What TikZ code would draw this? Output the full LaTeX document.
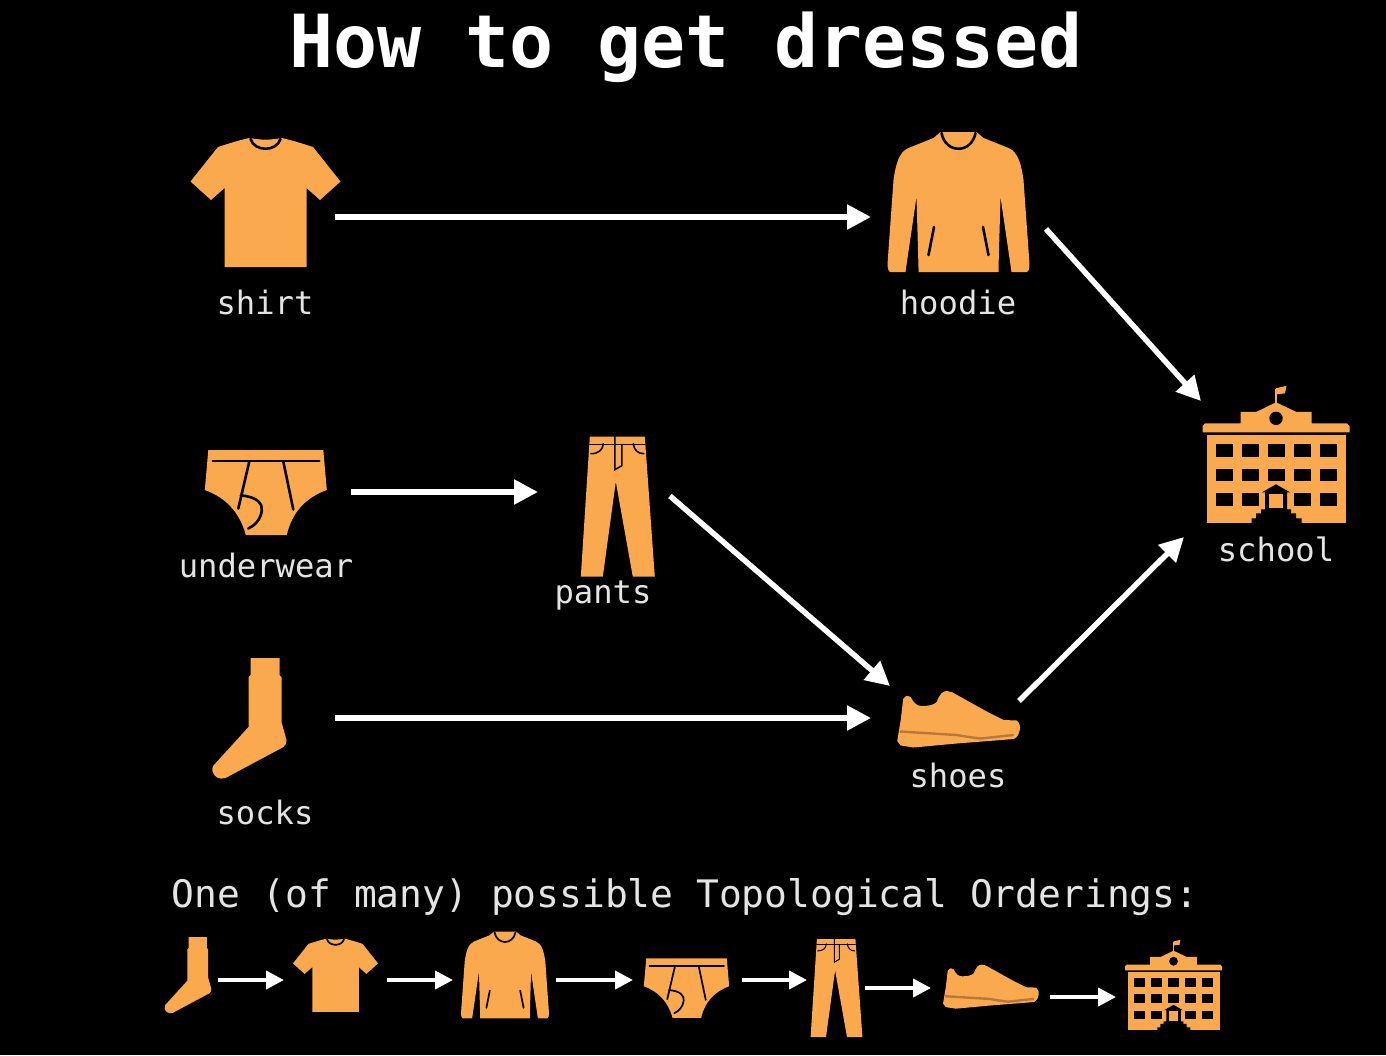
\documentclass[tikz,border=0pt]{standalone}
\usepackage{fontspec}
\setmonofont{DejaVu Sans Mono}
\usetikzlibrary{arrows.meta}
\definecolor{clothes}{HTML}{FBA94F}
\definecolor{labeltext}{HTML}{E4E4E4}
\tikzset{
  iconbox/.style={inner sep=0pt,outer sep=0pt},
  iconfill/.style={fill=clothes},
  iconstroke/.style={draw=black,line width=2.6pt,line cap=round},
  iconsmall/.style={scale=#1,iconstroke/.append style={line width=1.7pt}},
  itemlabel/.style={anchor=base,text=labeltext,font=\ttfamily\fontsize{32.2}{36}\selectfont},
  bigarrow/.style={white,line width=5.5pt,-{Triangle[length=24pt,width=24pt]}},
  smallarrow/.style={white,line width=4pt,-{Triangle[length=18pt,width=18pt]}},
  % Icons, drawn around their centre in pixels of the large row
  shirticon/.pic={
    \fill[iconfill] (-16,-64) to[bend right=10] (16,-64) .. controls (26,-62) and (38,-58) .. (47.5,-55) -- (75,-20.5) -- (54.5,-2) -- (41,-14)
      -- (41,65) -- (-41,65) -- (-41,-14) -- (-54.5,-2) -- (-75,-20.5) -- (-47.5,-55) .. controls (-38,-58) and (-26,-62) .. (-16,-64) -- cycle;
    \draw[iconstroke] (-15,-63) .. controls (-11,-50) and (11,-50) .. (15,-63);
  },
  hoodieicon/.pic={
    \fill[iconfill] (-18,-70) -- (18,-70) -- (25,-64) -- (50,-54) .. controls (60,-50) and (63,-36) .. (65,-22)
      -- (71,62) .. controls (71,66) and (70,70) .. (68,70) -- (53,70) -- (52,63) -- (42,-5) -- (40,66) -- (40,70)
      -- (-40,70) -- (-40,66) -- (-42,-5) -- (-52,63) -- (-53,70) -- (-68,70) .. controls (-70,70) and (-71,66) .. (-71,62)
      -- (-65,-22) .. controls (-63,-36) and (-60,-50) .. (-50,-54) -- (-25,-64) -- cycle;
    \draw[iconstroke] (-17,-69) .. controls (-13,-48) and (13,-48) .. (17,-69);
    \draw[iconstroke] (24.5,25) -- (30,53);
    \draw[iconstroke] (-24.5,25) -- (-30,53);
  },
  undericon/.pic={
    \fill[iconfill] (-57.5,-42.5) -- (57.5,-42.5) -- (61,-2.5) .. controls (40,5) and (26,20) .. (21,42.5) -- (-20,42.5)
      .. controls (-26,20) and (-40,5) .. (-61,-2.5) -- cycle;
    \draw[iconstroke] (-53,-31.5) -- (53.5,-31.5);
    \draw[iconstroke] (-16.5,-31) -- (-27.5,16);
    \draw[iconstroke] (17.5,-31) -- (27.5,17);
    \draw[iconstroke] (-25,3) .. controls (-8,4) and (-3,12) .. (-4,18) .. controls (-5,27) and (-11,33) .. (-17.5,36);
  },
  pantsicon/.pic={
    \fill[iconfill] (-28,-70) -- (27,-70) -- (37,70) -- (15,70) -- (-2,-25) -- (-15,70) -- (-37,70) -- cycle;
    \begin{scope}[iconstroke,line width=0.6*\pgflinewidth]
      \draw (-28,-62) -- (27,-62);
      \draw (-3,-70) -- (-3,-37) -- (4,-41) -- (4,-62);
      \draw (-27,-53) .. controls (-19,-53) and (-15,-57) .. (-14.5,-63);
      \draw (26,-53) .. controls (20,-53) and (16,-57) .. (15.5,-63);
    \end{scope}
  },
  shoesicon/.pic={
    \fill[iconfill] (-61.5,20) -- (-58,-1) -- (-55.5,-22) .. controls (-53,-26) and (-50,-26) .. (-48,-24)
      .. controls (-45,-18) and (-42,-15) .. (-37,-15) .. controls (-30,-15) and (-25,-16) .. (-22,-19)
      .. controls (-19,-27) and (-16,-30) .. (-12,-30) -- (-7,-29) -- (28,-9.5) -- (45,-1) -- (58,-0.5) .. controls (61,2) and (62,6) .. (61,9)
      .. controls (60,14) and (58,17) .. (55,18) -- (-2,22.5) -- (-45,26.5) -- (-58,24.5) -- cycle;
    \draw[clothes!72!black,line width=2.4pt] (-59,10.5) -- (-2,14) .. controls (10,16) and (16,17) .. (22,17.5) -- (55,14);
    \foreach \x in {-52,-44,...,52}
      \fill[black] (\x,{24.5-0.08*\x}) circle (1.6);
  },
  socksicon/.pic={
    \fill[iconfill] (1,-60) -- (30,-60) -- (30,-43) -- (32,-41) -- (32,4) -- (37,22) .. controls (37.5,25) and (36,27) .. (34,29)
      -- (-24,60) .. controls (-30,62) and (-36,59) .. (-37,53) .. controls (-37.5,51) and (-37,49) .. (-36,47.5)
      -- (-1,9) -- (-1,-41) -- (1,-43) -- cycle;
  },
  schoolicon/.pic={
    \draw[clothes,line width=1.5pt] (0,-50) -- (0,-65);
    \fill[iconfill] (0,-66) -- (10.5,-68.5) -- (9,-61) -- (1,-60) -- cycle;
    \fill[iconfill] (-35.5,-31) -- (-35.5,-42.5) -- (-19.5,-42.5) -- (0,-52) -- (20,-42.5) -- (35.5,-42.5) -- (35.5,-31)
      -- (71,-31) -- (73.5,-28) -- (73.5,-22) -- (-73.5,-22) -- (-73.5,-28) -- (-71,-31) -- cycle;
    \fill[black] (0,-36) circle (6.7);
    \fill[iconfill] (-69.5,-19) rectangle (70,68.5);
    \foreach \wx in {-52,-26,0,26,52}
      \foreach \wy in {-4,20.5}
        \fill[black] (\wx-8.5,\wy-6.3) rectangle (\wx+8.5,\wy+6.3);
    \foreach \wx in {-52,-26,26,52}
      \fill[black] (\wx-8.5,39) rectangle (\wx+8.5,51.5);
    \fill[black] (-14,38) -- (0,30) -- (14,38) -- (11,38) -- (11,55) -- (15,55) -- (15,59) -- (20,59) -- (20,64) -- (25.5,64) -- (25.5,68.5)
      -- (-24.5,68.5) -- (-24.5,64) -- (-20,64) -- (-20,59) -- (-15,59) -- (-15,55) -- (-11,55) -- (-11,38) -- cycle;
    \fill[iconfill] (-6.7,40) rectangle (6.7,54);
  }
}

\begin{document}
\begin{tikzpicture}[x=1pt,y=-1pt]
  \useasboundingbox (0,0) rectangle (1386,1055);
  \fill[black] (0,0) rectangle (1386,1055);

  % Title
  \node[anchor=base,text=white,font=\ttfamily\bfseries\fontsize{73.2}{80}\selectfont] (title) at (686,67) {How to get dressed};

  % Boxes the arrows attach to
  \node[iconbox,minimum width=140pt,minimum height=130pt] (shirt) at (265,217) {};
  \node[iconbox,minimum width=175pt,minimum height=130pt] (hoodie) at (958.5,217) {};
  \node[iconbox,minimum width=150pt,minimum height=136pt] (school) at (1276,469) {};
  \node[iconbox,minimum width=170pt,minimum height=90pt] (underwear) at (266,492) {};
  \node[iconbox,minimum width=132pt,minimum height=140pt] (pants) at (604,492) {};
  \node[iconbox,minimum width=140pt,minimum height=120pt] (socks) at (265,718) {};
  \node[iconbox,minimum width=148pt,minimum height=64pt] (shoes) at (945,718) {};

  % Large icons
  \pic at (265.5,202) {shirticon};
  \pic at (958.5,202) {hoodieicon};
  \pic at (1276,454.3) {schoolicon};
  \pic at (265.8,492.5) {undericon};
  \pic at (617.8,506.7) {pantsicon};
  \pic at (249.5,718) {socksicon};
  \pic at (958.7,721) {shoesicon};

  % Labels
  \node[itemlabel] (shirtlabel) at (265,314) {shirt};
  \node[itemlabel] (hoodielabel) at (958,314) {hoodie};
  \node[itemlabel] (schoollabel) at (1276,561) {school};
  \node[itemlabel] (underwearlabel) at (266,577) {underwear};
  \node[itemlabel] (pantslabel) at (603,603) {pants};
  \node[itemlabel] (sockslabel) at (265,824) {socks};
  \node[itemlabel] (shoeslabel) at (958,787) {shoes};

  % Graph arrows
  \draw[bigarrow] (shirt.east) -- (hoodie.west);
  \draw[bigarrow] ([yshift=-12pt]hoodie.east) -- (school.north west);
  \draw[bigarrow] (underwear.east) -- (pants.west);
  \draw[bigarrow] ([yshift=-4pt]pants.east) -- ([xshift=19pt]shoes.north west);
  \draw[bigarrow] (socks.east) -- (shoes.west);
  \draw[bigarrow] ([yshift=17pt]shoes.east) -- ([xshift=-17pt]school.south west);

  % Ordering
  \node[itemlabel,font=\ttfamily\fontsize{37.9}{42}\selectfont] (ordering) at (685,907) {One (of many) possible Topological Orderings:};

  \node[iconbox,minimum width=54pt,minimum height=74pt] (socksb) at (191,980) {};
  \node[iconbox,minimum width=103pt,minimum height=70pt] (shirtb) at (335.5,980) {};
  \node[iconbox,minimum width=103pt,minimum height=80pt] (hoodieb) at (504.5,980) {};
  \node[iconbox,minimum width=109pt,minimum height=60pt] (underb) at (687.5,980) {};
  \node[iconbox,minimum width=58pt,minimum height=96pt] (pantsb) at (836,984) {};
  \node[iconbox,minimum width=119pt,minimum height=46pt] (shoesb) at (990.5,992.5) {};
  \node[iconbox,minimum width=114pt,minimum height=90pt] (schoolb) at (1173,997) {};

  \pic[iconsmall=0.63] at (188,975) {socksicon};
  \pic[iconsmall=0.567] at (335.5,975) {shirticon};
  \pic[iconsmall=0.62] at (505,975) {hoodieicon};
  \pic[iconsmall=0.70] at (686.5,988) {undericon};
  \pic[iconsmall=0.70] at (836.5,988) {pantsicon};
  \pic[iconsmall=0.78] at (991,988) {shoesicon};
  \pic[iconsmall=0.66] at (1173.5,985) {schoolicon};

  \draw[smallarrow] (socksb.east) -- (shirtb.west);
  \draw[smallarrow] (shirtb.east) -- (hoodieb.west);
  \draw[smallarrow] (hoodieb.east) -- (underb.west);
  \draw[smallarrow] (underb.east) -- ([yshift=4pt]pantsb.west);
  \draw[smallarrow] ([yshift=-4pt]pantsb.east) -- ([yshift=4.5pt]shoesb.west);
  \draw[smallarrow] ([yshift=-4.5pt]shoesb.east) -- (schoolb.west);
\end{tikzpicture}
\end{document}
